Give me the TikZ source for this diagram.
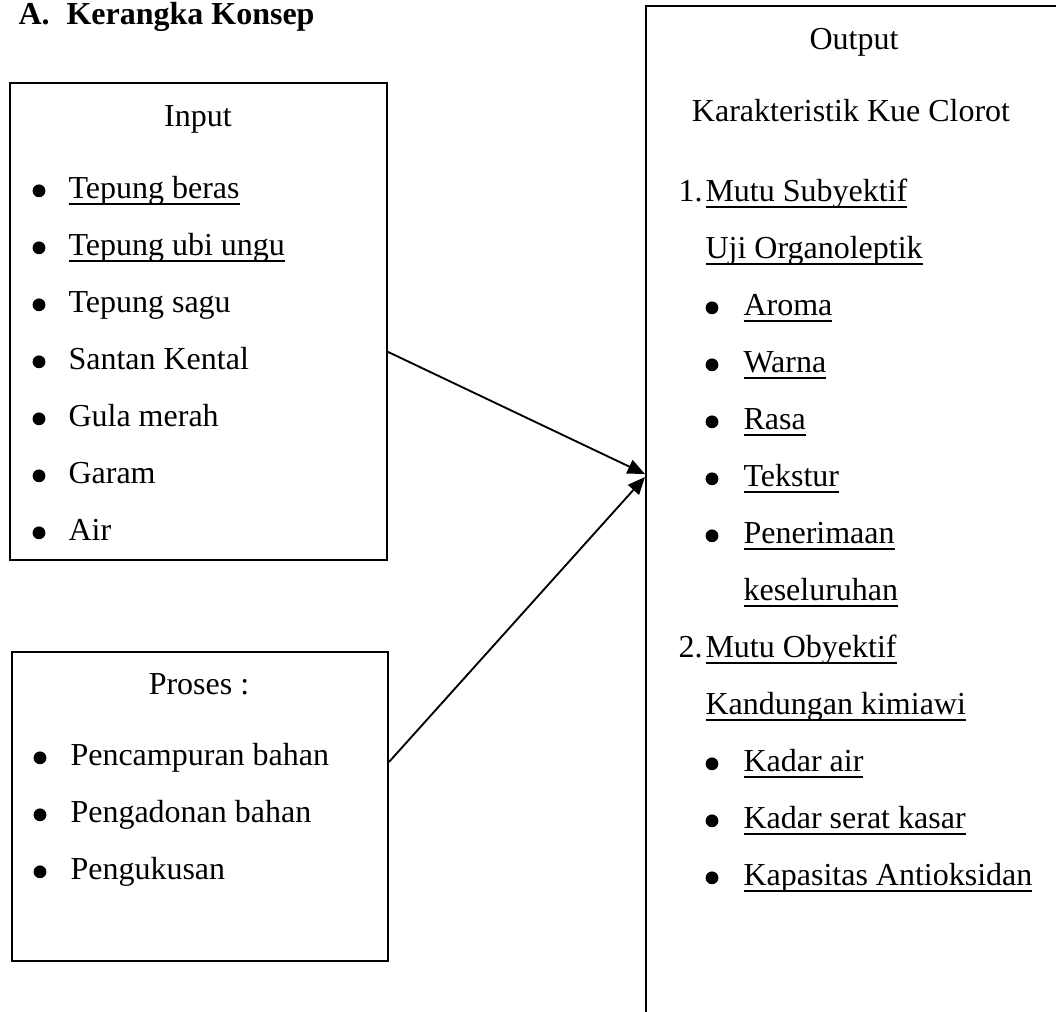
\documentclass[tikz,border=0pt]{standalone}
\usepackage{fontspec}
\setmainfont{Liberation Serif}
\usepackage{tikz}
\usetikzlibrary{arrows.meta,positioning,fit}

\newsavebox\ulbox
\newcommand{\ulx}[1]{\sbox\ulbox{#1}\rlap{\rule[-2.6pt]{\wd\ulbox}{0.7pt}}\usebox\ulbox}

\tikzset{
  box/.style={draw, line width=0.75pt, inner sep=0pt},
  head/.style={anchor=base, inner sep=0pt},
  item/.style={anchor=base west, inner sep=0pt},
  bul/.style={circle, fill, inner sep=0pt, minimum size=4.8pt, yshift=2.7pt},
  arr/.style={-{Triangle[length=6.5pt,width=5.5pt]}, line width=0.7pt}
}

\begin{document}
\begin{tikzpicture}[x=0.375pt, y=-0.375pt, font=\fontsize{12pt}{14pt}\selectfont]
    \useasboundingbox (0,0) rectangle (1056,1011);
    % title
    \node[item] (title) at (18,24) {\bfseries\makebox[18pt][l]{A.}Kerangka Konsep};

    % boxes
    \node[box, fit={(10,83) (387,560)}] (input) {};
    \node[box, fit={(12,652) (388,961)}] (proses) {};
    \node[box, fit={(646,6) (1300,1100)}] (output) {};

    % input
    \node[head] (inHead) at (198,126) {Input};
    \node[bul] (b1) at (39,198) {}; \node[item] (in1) at (68,198) {\ulx{Tepung beras}};
    \node[bul] (b2) at (39,255) {}; \node[item] (in2) at (68,255) {\ulx{Tepung ubi ungu}};
    \node[bul] (b3) at (39,312) {}; \node[item] (in3) at (68,312) {Tepung sagu};
    \node[bul] (b4) at (39,369) {}; \node[item] (in4) at (68,369) {Santan Kental};
    \node[bul] (b5) at (39,426) {}; \node[item] (in5) at (68,426) {Gula merah};
    \node[bul] (b6) at (39,483) {}; \node[item] (in6) at (68,483) {Garam};
    \node[bul] (b7) at (39,540) {}; \node[item] (in7) at (68,540) {Air};

    % proses
    \node[head] (prHead) at (199,694) {Proses :};
    \node[bul] (b8) at (40,765) {}; \node[item] (pr1) at (70,765) {Pencampuran bahan};
    \node[bul] (b9) at (40,822) {}; \node[item] (pr2) at (70,822) {Pengadonan bahan};
    \node[bul] (b10) at (40,879) {}; \node[item] (pr3) at (70,879) {Pengukusan};

    % output
    \node[head] (outHead) at (854,49) {Output};
    \node[head] (outSub) at (851,121) {Karakteristik Kue Clorot};
    \node[item] (n1) at (678,201) {1.}; \node[item] (o1) at (705,201) {\ulx{Mutu Subyektif}};
    \node[item] (o2) at (705,258) {\ulx{Uji Organoleptik}};
    \node[bul] (b11) at (712,315) {}; \node[item] (o3) at (743,315) {\ulx{Aroma}};
    \node[bul] (b12) at (712,372) {}; \node[item] (o4) at (743,372) {\ulx{Warna}};
    \node[bul] (b13) at (712,429) {}; \node[item] (o5) at (743,429) {\ulx{Rasa}};
    \node[bul] (b14) at (712,486) {}; \node[item] (o6) at (743,486) {\ulx{Tekstur}};
    \node[bul] (b15) at (712,543) {}; \node[item] (o7) at (743,543) {\ulx{Penerimaan}};
    \node[item] (o8) at (743,600) {\ulx{keseluruhan}};
    \node[item] (n2) at (678,657) {2.}; \node[item] (o9) at (705,657) {\ulx{Mutu Obyektif}};
    \node[item] (o10) at (705,714) {\ulx{Kandungan kimiawi}};
    \node[bul] (b16) at (712,771) {}; \node[item] (o11) at (743,771) {\ulx{Kadar air}};
    \node[bul] (b17) at (712,828) {}; \node[item] (o12) at (743,828) {\ulx{Kadar serat kasar}};
    \node[bul] (b18) at (712,885) {}; \node[item] (o13) at (743,885) {\ulx{Kapasitas Antioksidan}};

    % arrows
    \draw[arr] ([yshift=-11.4pt]input.east) -- ([yshift=29.6pt]output.west);
    \draw[arr] ([yshift=16.7pt]proses.east) -- ([yshift=28.5pt]output.west);
  \end{tikzpicture}
\end{document}
